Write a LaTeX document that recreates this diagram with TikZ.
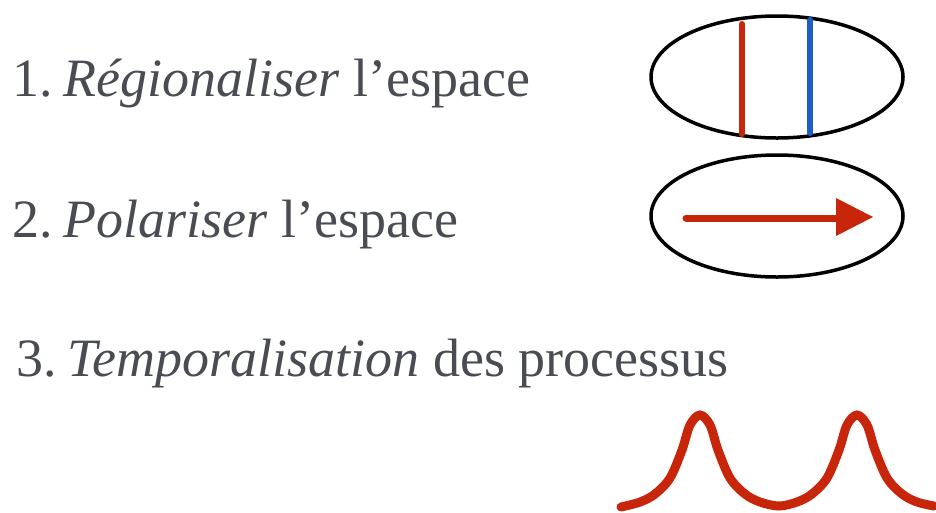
\documentclass[tikz,border=0pt]{standalone}
\usepackage{fontspec}
\setmainfont{Liberation Serif}
\definecolor{txt}{HTML}{4A4C54}
\definecolor{redd}{HTML}{C8260A}
\definecolor{bluu}{HTML}{1E5FC6}
\begin{document}
\begin{tikzpicture}[x=1pt,y=-1pt,
  lbl/.style={anchor=base west, inner sep=0pt, text=txt, font=\fontsize{54}{64}\selectfont},
  oval/.style={draw=black, line width=3.5pt},
  redmark/.style={draw=redd, line width=6pt, line cap=round},
  bluemark/.style={draw=bluu, line width=6pt, line cap=round}]
\useasboundingbox (0,0) rectangle (936,512);
\node[lbl] (t1) at (12,96) {1.\hspace{0.2em}\textit{Régionaliser} l’espace};
\node[lbl] (t2) at (12,237) {2.\hspace{0.2em}\textit{Polariser} l’espace};
\node[lbl] (t3) at (16,376) {3.\hspace{0.2em}\textit{Temporalisation} des processus};
% ellipse 1
\draw[oval] (777,77) ellipse [x radius=126, y radius=61];
\draw[redmark] (742,24) -- (742,134);
\draw[bluemark] (810,20) -- (810,133);
% ellipse 2
\draw[oval] (777,216) ellipse [x radius=126, y radius=61];
\draw[draw=redd, line width=7pt, line cap=round] (686,218) -- (840,218);
\fill[redd] (836,198) -- (873,217) -- (836,236) -- cycle;
% curve
\draw[draw=redd, line width=9pt, line cap=round] plot[smooth, tension=0.55] coordinates {
  (621,507) (640,502) (655,494) (670,478) (682,450) (690,425) (700,415) (710,425) (718,450)
  (730,478) (745,494) (760,502) (779,506)
  (797,502) (812,494) (827,478) (839,450) (847,425) (857,415) (867,425) (875,450)
  (887,478) (902,494) (917,502) (934,506)};
\end{tikzpicture}
\end{document}
